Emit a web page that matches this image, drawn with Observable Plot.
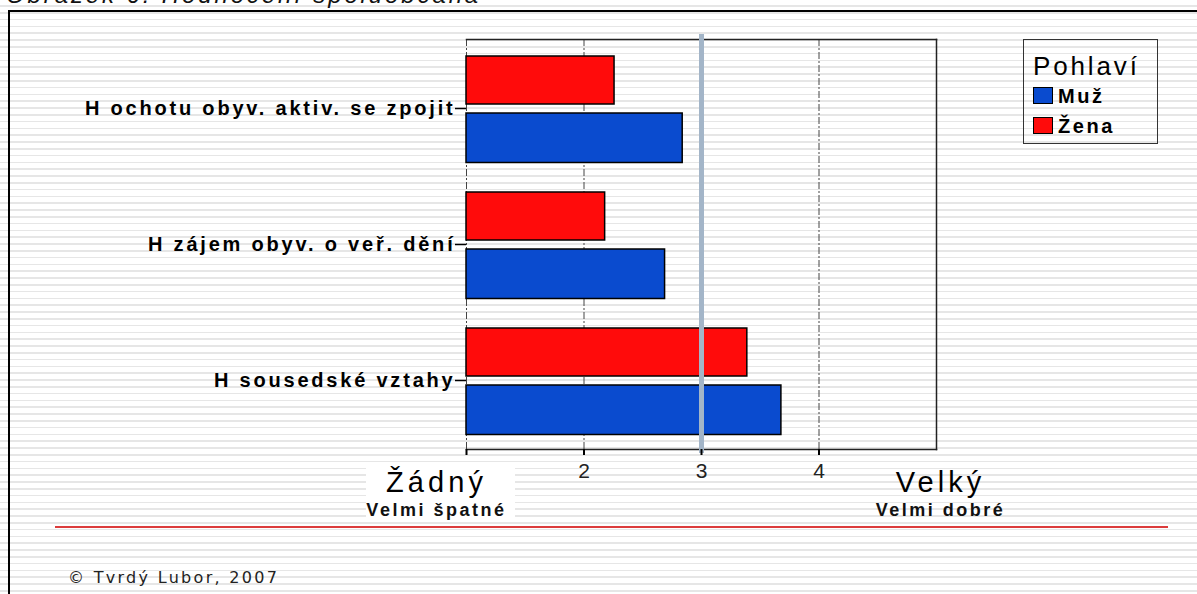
<!DOCTYPE html>
<html>
<head>
<meta charset="utf-8">
<script src="https://cdn.jsdelivr.net/npm/d3@7"></script>
<script src="https://cdn.jsdelivr.net/npm/@observablehq/plot@0.6"></script>
<style>
html, body { margin: 0; padding: 0; }
body {
  width: 1197px; height: 594px; overflow: hidden; position: relative;
  background: repeating-linear-gradient(to bottom, #ffffff 0px, #ffffff 5.1px, #e6e6e6 5.1px, #e6e6e6 6.8px);
  font-family: "Liberation Sans", Arial, sans-serif;
}
#title { position: absolute; left: 6px; top: -16px; font-style: italic; font-size: 24px; line-height: 22px; letter-spacing: 0.12em; color: #111; white-space: nowrap; }
#border { position: absolute; left: 8px; top: 10px; width: 1200px; height: 600px; border-top: 2px solid #000; border-left: 2px solid #000; }
#whitebox { position: absolute; left: 366px; top: 462px; width: 149px; height: 60px; background: #fff; }
#chart { position: absolute; left: 0; top: 0; }
#redline { position: absolute; left: 55px; top: 526px; width: 1113px; height: 2px; background: #dc3c3c; }
#legend { position: absolute; left: 1023px; top: 39px; width: 133px; height: 103px; border: 1.5px solid #333; }
#legend .lt { position: absolute; left: 9px; top: 12px; font-size: 26px; line-height: 28px; letter-spacing: 0.11em; color: #000; }
#legend .li { position: absolute; left: 9px; font-size: 20px; line-height: 20px; font-weight: bold; letter-spacing: 0.13em; color: #000; white-space: nowrap; }
#legend .sw { display: inline-block; width: 18px; height: 15px; border: 1px solid #000; margin-right: 5px; vertical-align: -1px; }
#copy { position: absolute; left: 68px; top: 568px; font-family: "DejaVu Sans", Verdana, sans-serif; font-size: 16px; letter-spacing: 2.3px; color: #222; white-space: nowrap; }
.cz text { letter-spacing: 0.14em; }
.cz g[aria-label="x-axis tick label"] text { letter-spacing: 0; }
</style>
</head>
<body>
<div id="title">Obrázek 6: Hodnocení spoluobčana</div>
<div id="border"></div>
<div id="whitebox"></div>
<div id="redline"></div>
<div id="chart"></div>
<div id="legend"></div>
<div id="copy">© Tvrdý Lubor, 2007</div>
<script>
// ---- data ----
const categories = ["H ochotu obyv. aktiv. se zpojit", "H zájem obyv. o veř. dění", "H sousedské vztahy"];
const series = ["Muž", "Žena"];
const seriesColors = ["#0a4bcf", "#ff0b0b"];
const muzValues = [2.84, 2.69, 3.68];
const zenaValues = [2.26, 2.18, 3.39];
const xDomain = [1, 5];
const xTicks = [1, 2, 3, 4];
const gridTicks = [1, 2, 3, 4];
const midpoint = [3];
const endValues = [1, 5];
const endBig = ["Žádný", "Velký"];
const endSmall = ["Velmi špatné", "Velmi dobré"];
const legendTitle = "Pohlaví";

// ---- table ----
const rows = [];
categories.forEach((c, i) => {
  rows.push({category: c, sex: series[0], value: muzValues[i]});
  rows.push({category: c, sex: series[1], value: zenaValues[i]});
});
const baseline = xDomain[0];

const barStyle = {y: "category", x1: () => baseline, x2: "value", fill: "sex", stroke: "#000", strokeWidth: 1.5};

const endText = (i, dx) => [
  Plot.text([endValues[i]], {x: d => d, text: () => endBig[i], frameAnchor: "bottom", dy: 42, dx, fontSize: 29, fill: "#000"}),
  Plot.text([endValues[i]], {x: d => d, text: () => endSmall[i], frameAnchor: "bottom", dy: 66, dx, fontSize: 18, fontWeight: "bold", fill: "#111"})
];

const chart = Plot.plot({
  width: 1197,
  height: 594,
  marginTop: 39,
  marginBottom: 145,
  marginLeft: 466,
  marginRight: 261,
  className: "cz",
  style: {background: "transparent", overflow: "visible", fontFamily: "'Liberation Sans', Arial, sans-serif", color: "#000"},
  x: {domain: xDomain, axis: null},
  y: {domain: categories, padding: 0, axis: null},
  color: {domain: series, range: seriesColors},
  marks: [
    Plot.ruleX(gridTicks, {stroke: "#444", strokeWidth: 1, strokeDasharray: "7,2,2,2"}),
    Plot.barX(rows.filter(d => d.sex === series[1]), {...barStyle, insetTop: 16, insetBottom: 72}),
    Plot.barX(rows.filter(d => d.sex === series[0]), {...barStyle, insetTop: 73, insetBottom: 13.5}),
    Plot.frame({anchor: "top", stroke: "#222", strokeWidth: 1.5}),
    Plot.frame({anchor: "right", stroke: "#222", strokeWidth: 1.5}),
    Plot.frame({anchor: "bottom", stroke: "#222", strokeWidth: 1.5}),
    Plot.ruleX(midpoint, {stroke: "#a3b5c8", strokeWidth: 5, insetTop: -5, insetBottom: -4}),
    Plot.axisX({ticks: xTicks, tickSize: 6, tickPadding: 8, tickFormat: d => d === baseline ? "" : String(d), fontSize: 21, strokeWidth: 2, label: null, fill: "#222"}),
    Plot.axisY({tickSize: 11, tickPadding: 0, fontSize: 20, fontWeight: "bold", strokeWidth: 1.5, label: null, fill: "#000"}),
    ...endText(0, -30),
    ...endText(1, 4)
  ]
});
document.getElementById("chart").appendChild(chart);

// ---- legend (HTML) ----
const legend = document.getElementById("legend");
const lt = document.createElement("div");
lt.className = "lt";
lt.textContent = legendTitle;
legend.appendChild(lt);
series.forEach((s, i) => {
  const li = document.createElement("div");
  li.className = "li";
  li.style.top = (46 + i * 30) + "px";
  const sw = document.createElement("span");
  sw.className = "sw";
  sw.style.background = seriesColors[i];
  li.appendChild(sw);
  li.appendChild(document.createTextNode(s));
  legend.appendChild(li);
});
</script>
</body>
</html>
